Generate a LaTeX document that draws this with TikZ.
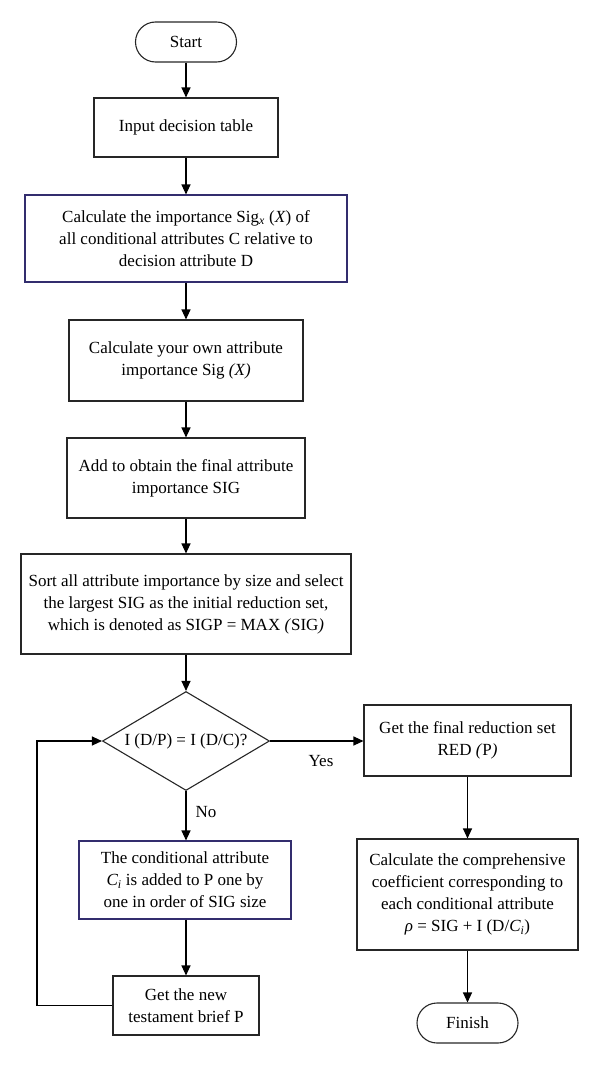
\documentclass[tikz,border=0pt]{standalone}
\usepackage{fontspec}
\setmainfont{Liberation Serif}
\usepackage{tikz}
\usetikzlibrary{arrows.meta,shapes.geometric}
\definecolor{boxnavy}{RGB}{50,45,110}

\begin{document}
\begin{tikzpicture}[x=1pt, y=-1pt,
        font=\fontsize{17}{22}\selectfont,
        line width=1.1pt,
        proc/.style={draw=black!85, rectangle, align=center, inner sep=0pt},
        term/.style={draw=black!85, rectangle, rounded corners=20pt,
            minimum width=101pt, minimum height=40pt, inner sep=0pt},
        test/.style={draw=black!85, diamond, aspect=1.69,
            minimum width=167pt, minimum height=99pt, inner sep=0pt},
        flow/.style={-{Triangle[length=10pt,width=9pt]}}]
        \useasboundingbox (0,0) rectangle (600,1065);
        % main column
        \node[term] (start) at (186,42) {Start};
        \node[proc, minimum width=184pt, minimum height=59pt] (input) at (186,127.5)
            {Input decision table};
        \node[proc, draw=boxnavy, minimum width=322pt, minimum height=87pt] (sigx) at (186,238.5)
            {Calculate the importance Sig\textsubscript{\textit{x}} (\textit{X}) of\\
             all conditional attributes C relative to\\ decision attribute D};
        \node[proc, minimum width=234pt, minimum height=81pt] (own) at (186,360.5)
            {Calculate your own attribute\\ importance Sig \textit{(X)}};
        \node[proc, minimum width=238pt, minimum height=80pt] (add) at (186,478)
            {Add to obtain the final attribute\\ importance SIG};
        \node[proc, minimum width=330pt, minimum height=100pt] (sort) at (186,604)
            {Sort all attribute importance by size and select\\
             the largest SIG as the initial reduction set,\\
             which is denoted as SIGP = MAX \textit{(}SIG\textit{)}};
        \node[test] (check) at (186,741) {I (D/P) = I (D/C)?};
        % no branch
        \node[proc, draw=boxnavy, minimum width=212pt, minimum height=78pt] (addci) at (185,880)
            {The conditional attribute\\ \textit{C\textsubscript{i}} is added to P one by\\
             one in order of SIG size};
        \node[proc, minimum width=146pt, minimum height=59pt] (newp) at (186,1005.5)
            {Get the new\\ testament brief P};
        % yes branch
        \node[proc, minimum width=207pt, minimum height=71pt] (red) at (467.5,740.5)
            {Get the final reduction set\\ RED \textit{(}P\textit{)}};
        \node[proc, minimum width=221pt, minimum height=111pt] (coef) at (467.5,894.5)
            {Calculate the comprehensive\\ coefficient corresponding to\\
             each conditional attribute\\
             \textit{ρ} = SIG + I (D/\textit{C\textsubscript{i}})};
        \node[term] (finish) at (467.5,1023) {Finish};
        \node (yes) at (321,761) {Yes};
        \node (no) at (206,812) {No};
        \coordinate (loop) at (37,1005.5);
        % connectors
        \draw[flow] (start) -- (input);
        \draw[flow] (input) -- (sigx);
        \draw[flow] (sigx) -- (own);
        \draw[flow] (own) -- (add);
        \draw[flow] (add) -- (sort);
        \draw[flow] (sort) -- (check);
        \draw[flow] (check.east) -- (check.east -| red.west);
        \draw[flow] (check.south) -- (check.south |- addci.north);
        \draw[flow] (addci.south -| newp.north) -- (newp.north);
        \draw[flow] (newp.west) -- (loop) |- (check.west);
        \draw[flow] (red) -- (coef);
        \draw[flow] (coef) -- (finish);
\end{tikzpicture}
\end{document}
